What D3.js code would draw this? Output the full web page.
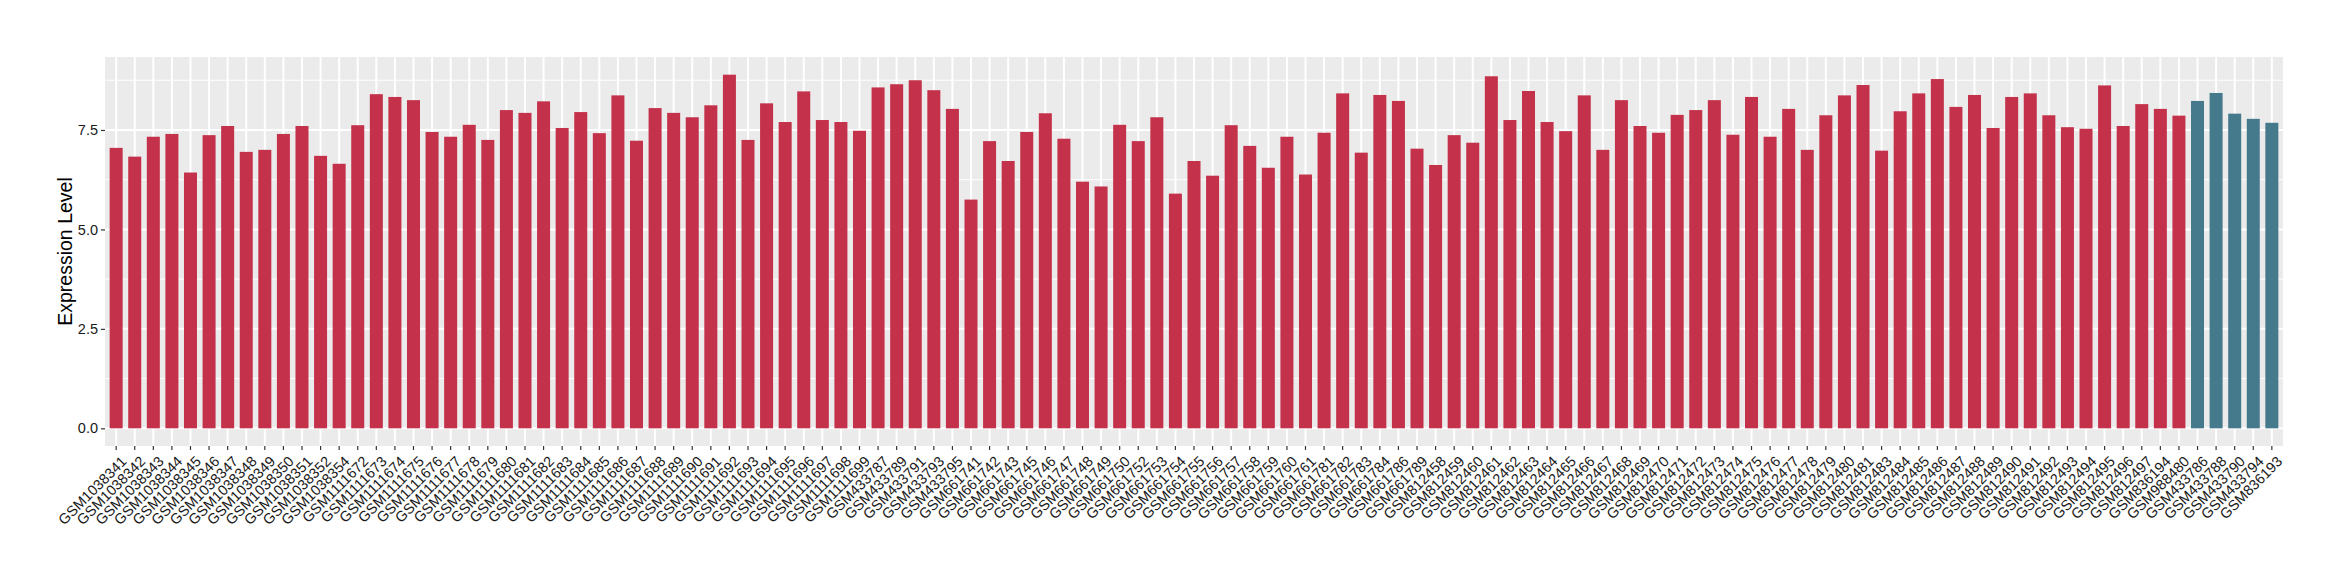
<!DOCTYPE html>
<html>
<head>
<meta charset="utf-8">
<script src="https://cdn.jsdelivr.net/npm/d3@7"></script>
<style>
  body { margin: 0; background: #fff; }
  svg text { font-family: "Liberation Sans", Arial, sans-serif; }
</style>
</head>
<body>
<div id="chart"></div>
<script>
// samples, in plot order
var samples = [
  "GSM1038341","GSM1038342","GSM1038343","GSM1038344","GSM1038345","GSM1038346","GSM1038347",
  "GSM1038348","GSM1038349","GSM1038350","GSM1038351","GSM1038352","GSM1038354",
  "GSM1111672","GSM1111673","GSM1111674","GSM1111675","GSM1111676","GSM1111677","GSM1111678",
  "GSM1111679","GSM1111680","GSM1111681","GSM1111682","GSM1111683","GSM1111684","GSM1111685",
  "GSM1111686","GSM1111687","GSM1111688","GSM1111689","GSM1111690","GSM1111691","GSM1111692",
  "GSM1111693","GSM1111694","GSM1111695","GSM1111696","GSM1111697","GSM1111698","GSM1111699",
  "GSM433787","GSM433789","GSM433791","GSM433793","GSM433795",
  "GSM661741","GSM661742","GSM661743","GSM661745","GSM661746","GSM661747","GSM661748",
  "GSM661749","GSM661750","GSM661752","GSM661753","GSM661754","GSM661755","GSM661756",
  "GSM661757","GSM661758","GSM661759","GSM661760","GSM661761","GSM661781","GSM661782",
  "GSM661783","GSM661784","GSM661786","GSM661789",
  "GSM812458","GSM812459","GSM812460","GSM812461","GSM812462","GSM812463","GSM812464",
  "GSM812465","GSM812466","GSM812467","GSM812468","GSM812469","GSM812470","GSM812471",
  "GSM812472","GSM812473","GSM812474","GSM812475","GSM812476","GSM812477","GSM812478",
  "GSM812479","GSM812480","GSM812481","GSM812483","GSM812484","GSM812485","GSM812486",
  "GSM812487","GSM812488","GSM812489","GSM812490","GSM812491","GSM812492","GSM812493",
  "GSM812494","GSM812495","GSM812496","GSM812497","GSM836194","GSM988480",
  "GSM433786","GSM433788","GSM433790","GSM433794","GSM836193"
];

var expression = [
  7.05, 6.83, 7.33, 7.40, 6.43, 7.37, 7.60, 6.95, 7.00, 7.40, 7.60, 6.85, 6.65,
  7.62, 8.40, 8.33, 8.25, 7.45, 7.33, 7.63, 7.25, 8.00, 7.93, 8.22, 7.55, 7.95, 7.42,
  8.37, 7.23, 8.05, 7.93, 7.82, 8.12, 8.89, 7.25, 8.17, 7.70, 8.47, 7.75, 7.70, 7.48,
  8.57, 8.65, 8.75, 8.50, 8.03,
  5.75, 7.22, 6.72, 7.45, 7.92, 7.28, 6.20, 6.08, 7.63, 7.22, 7.82, 5.90, 6.72, 6.35,
  7.62, 7.10, 6.55, 7.33, 6.38, 7.43, 8.42, 6.93, 8.38, 8.23, 7.03,
  6.62, 7.37, 7.18, 8.85, 7.75, 8.48, 7.70, 7.47, 8.37, 7.00, 8.25, 7.60, 7.43, 7.88,
  8.00, 8.25, 7.38, 8.33, 7.33, 8.03, 7.00, 7.87, 8.37, 8.63, 6.98, 7.97, 8.42, 8.78,
  8.08, 8.38, 7.55, 8.33, 8.42, 7.87, 7.57, 7.53, 8.62, 7.60, 8.15, 8.03, 7.86,
  8.23, 8.43, 7.91, 7.78, 7.68
];

// group of each sample: the last five are the second group
var groups = samples.map(function(s, i) { return i < 112 ? "A" : "B"; });
var groupColor = { A: "#C4314A", B: "#447A8C" };

var yTicks = [0, 2.5, 5, 7.5];
var yMinor = [1.25, 3.75, 6.25, 8.75];

var W = 2340, H = 580;
var pLeft = 105, pRight = 2283, pTop = 57, pBottom = 446;

var data = samples.map(function(s, i) {
  return { name: s, value: expression[i], group: groups[i] };
});

var svg = d3.select("#chart").append("svg")
  .attr("width", W)
  .attr("height", H);

var x = d3.scaleBand()
  .domain(samples)
  .range([pLeft, pRight])
  .paddingInner(0.3)
  .paddingOuter(0.25);

var maxV = d3.max(expression);
var y = d3.scaleLinear()
  .domain([-maxV * 0.05, maxV * 1.05])
  .range([pBottom, pTop]);

// panel
svg.append("rect")
  .attr("x", pLeft).attr("y", pTop)
  .attr("width", pRight - pLeft).attr("height", pBottom - pTop)
  .attr("fill", "#EBEBEB");

// grid
svg.append("g").selectAll("line")
  .data(yMinor).enter().append("line")
  .attr("x1", pLeft).attr("x2", pRight)
  .attr("y1", function(d) { return y(d); })
  .attr("y2", function(d) { return y(d); })
  .attr("stroke", "#fff").attr("stroke-width", 1);

svg.append("g").selectAll("line")
  .data(yTicks).enter().append("line")
  .attr("x1", pLeft).attr("x2", pRight)
  .attr("y1", function(d) { return y(d); })
  .attr("y2", function(d) { return y(d); })
  .attr("stroke", "#fff").attr("stroke-width", 2);

svg.append("g").selectAll("line")
  .data(samples).enter().append("line")
  .attr("x1", function(d) { return x(d) + x.bandwidth() / 2; })
  .attr("x2", function(d) { return x(d) + x.bandwidth() / 2; })
  .attr("y1", pTop).attr("y2", pBottom)
  .attr("stroke", "#fff").attr("stroke-width", 2);

// bars
svg.append("g").selectAll("rect")
  .data(data).enter().append("rect")
  .attr("x", function(d) { return x(d.name); })
  .attr("width", x.bandwidth())
  .attr("y", function(d) { return y(d.value); })
  .attr("height", function(d) { return y(0) - y(d.value); })
  .attr("fill", function(d) { return groupColor[d.group]; });

// y axis
var yAxis = svg.append("g")
  .attr("transform", "translate(" + pLeft + ",0)")
  .call(d3.axisLeft(y).tickValues(yTicks).tickFormat(d3.format(".1f")).tickSize(4).tickPadding(3));
yAxis.select(".domain").remove();
yAxis.selectAll(".tick line").attr("stroke", "#333").attr("stroke-width", 1.2);
yAxis.selectAll(".tick text").attr("fill", "#1a1a1a").style("font-size", "14.5px");

// x axis
var xAxis = svg.append("g")
  .attr("transform", "translate(0," + pBottom + ")")
  .call(d3.axisBottom(x).tickSize(4).tickPadding(0));
xAxis.select(".domain").remove();
xAxis.selectAll(".tick line").attr("stroke", "#333").attr("stroke-width", 1.2);
xAxis.selectAll(".tick text")
  .attr("fill", "#1a1a1a")
  .style("font-size", "14.5px")
  .attr("text-anchor", "end")
  .attr("y", 0)
  .attr("dy", "0.72em")
  .attr("transform", "translate(4,9) rotate(-45)");

// axis title
svg.append("text")
  .attr("transform", "translate(72," + ((pTop + pBottom) / 2) + ") rotate(-90)")
  .attr("text-anchor", "middle")
  .style("font-size", "19.5px")
  .attr("fill", "#000")
  .text("Expression Level");
</script>
</body>
</html>
